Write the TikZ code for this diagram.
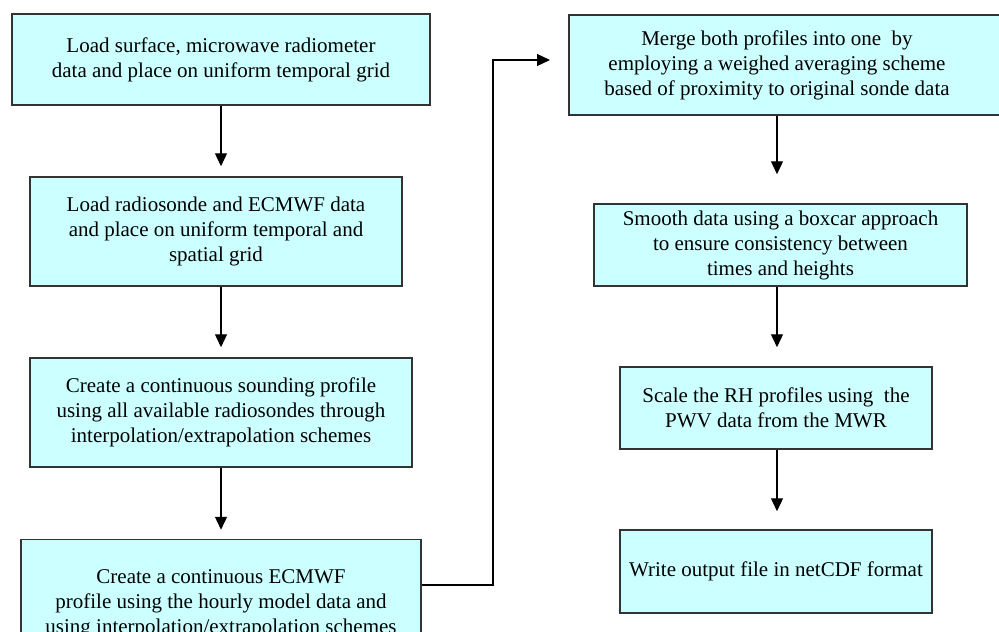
\documentclass[tikz,border=0pt]{standalone}
\usepackage{fontspec}
\setmainfont{Liberation Serif}
\usetikzlibrary{arrows.meta,calc}
\definecolor{boxfill}{RGB}{204,255,255}
\definecolor{boxline}{RGB}{51,51,51}
\begin{document}
\begin{tikzpicture}[x=1pt,y=-1pt,
  box/.style={draw=boxline,line width=1.5pt,fill=boxfill,rectangle,inner sep=0pt,align=center,font=\fontsize{21}{25}\selectfont},
  txt/.style={inner sep=0pt,align=center,font=\fontsize{21}{25}\selectfont},
  arr/.style={draw=black,line width=1.3pt,-{Triangle[length=13pt,width=12pt]}}]
\useasboundingbox (0,0) rectangle (999,632);
\clip (0,0) rectangle (999,632);
\fill[white] (0,0) rectangle (999,632);
% left column
\node[box,minimum width=418,minimum height=91] (b1) at (221,59.5) {Load surface, microwave radiometer\\data and place on uniform temporal grid};
\node[box,minimum width=372,minimum height=109] (b2) at (216,231.5) {Load radiosonde and ECMWF data\\and place on uniform temporal and\\spatial grid};
\node[box,minimum width=382,minimum height=109] (b3) at (221,412.5) {Create a continuous sounding profile\\using all available radiosondes through\\interpolation/extrapolation schemes};
\node[box,minimum width=400,minimum height=129] (b4) at (221,604) {Create a continuous ECMWF\\profile using the hourly model data and\\using interpolation/extrapolation schemes};
% right column
\node[box,minimum width=440,minimum height=100,anchor=north west] (b5) at (568,14) {};
\node[txt] (t5) at (777,65) {Merge both profiles into one~ by\\employing a weighed averaging scheme\\based of proximity to original sonde data};
\node[box,minimum width=373,minimum height=82] (b6) at (780.5,245) {Smooth data using a boxcar approach\\to ensure consistency between\\times and heights};
\node[box,minimum width=312,minimum height=82] (b7) at (776,408) {Scale the RH profiles using~ the\\PWV data from the MWR};
\node[box,minimum width=312,minimum height=83] (b8) at (776,571.5) {Write output file in netCDF format};
% connectors
\draw[arr,shorten >=10pt] (b1.south) -- (b1.south |- b2.north);
\draw[arr,shorten >=10pt] (b1.south |- b2.south) -- (b1.south |- b3.north);
\draw[arr,shorten >=9pt] (b3.south) -- (b3.south |- b4.north);
\coordinate (c1) at (493,585);
\coordinate (c2) at (493,60);
\draw[arr,shorten >=18pt] (b4.east |- c1) -- (c1) -- (c2) -- (b5.west |- c2);
\draw[arr,shorten >=29pt] (t5 |- b5.south) -- (t5 |- b6.north);
\draw[arr,shorten >=19pt] (t5 |- b6.south) -- (t5 |- b7.north);
\draw[arr,shorten >=18pt] (t5 |- b7.south) -- (t5 |- b8.north);
\end{tikzpicture}
\end{document}
